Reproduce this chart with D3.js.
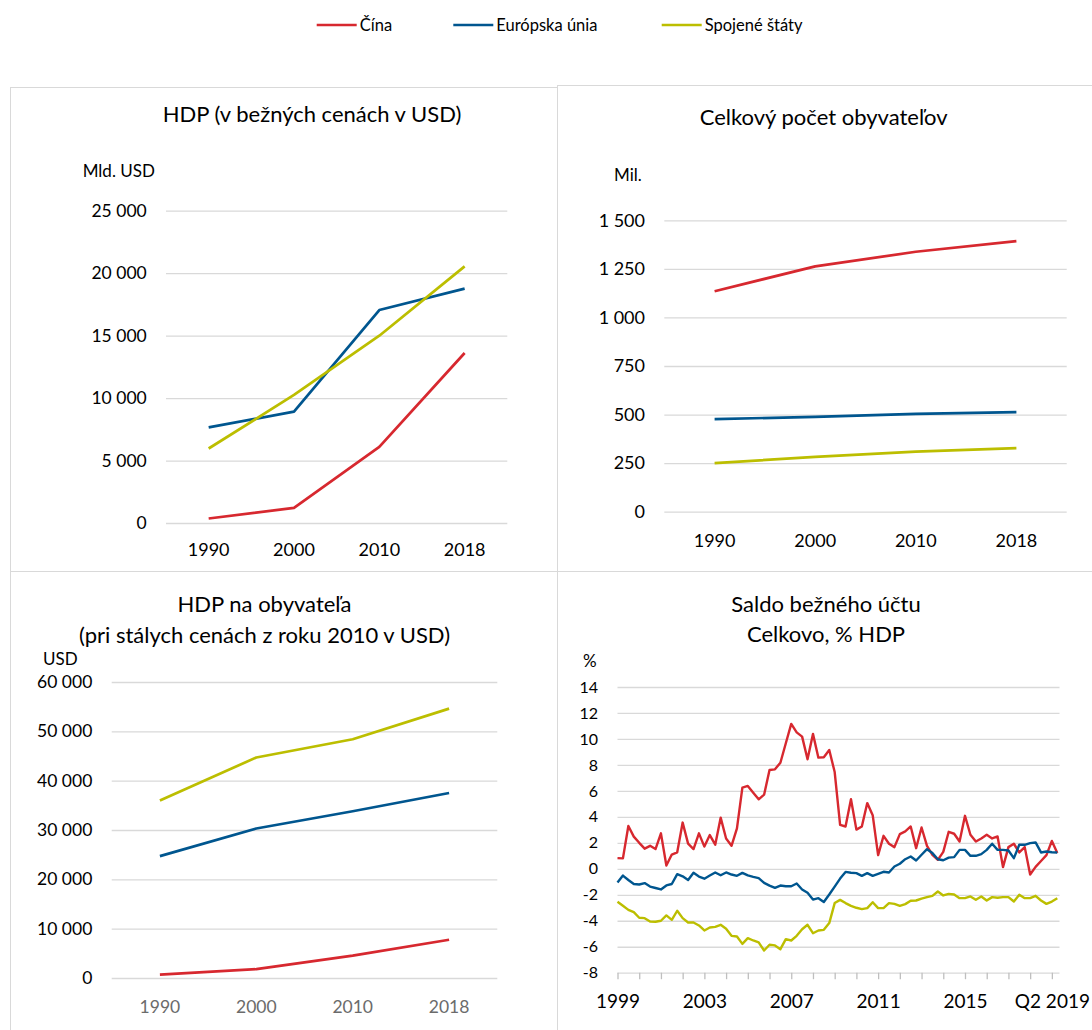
<!DOCTYPE html>
<html>
<head>
<meta charset="utf-8">
<script src="https://cdn.jsdelivr.net/npm/d3@7"></script>
<style>
  html, body { margin: 0; padding: 0; background: #fff; }
  svg { display: block; }
</style>
</head>
<body>
<svg id="chart" width="1092" height="1030"></svg>
<script>
// ---- Series ----
const seriesNames = ["Čína", "Európska únia", "Spojené štáty"];
const seriesColors = ["#d7282f", "#00568f", "#bcbe00"];

// ---- Annual categories for the three small panels ----
const years = ["1990", "2000", "2010", "2018"];

// GDP at current prices, bn USD
const gdpChina = [361, 1211, 6087, 13608];
const gdpEU = [7660, 8910, 17050, 18760];
const gdpUS = [5963, 10252, 14992, 20544];

// Total population, millions
const popChina = [1135, 1263, 1338, 1393];
const popEU = [477, 488, 504, 513];
const popUS = [250, 282, 309, 327];

// GDP per capita, constant 2010 prices, USD
const gdpPcChina = [700, 1800, 4550, 7760];
const gdpPcEU = [24700, 30300, 33800, 37500];
const gdpPcUS = [36000, 44700, 48400, 54600];

// ---- Current account balance, % of GDP, quarterly 1999 Q1 - 2019 Q2 ----
const caChina = [
  0.82, 0.80, 3.30, 2.48, 2.00, 1.55, 1.77, 1.52, 2.73, 0.25,
  1.10, 1.27, 3.56, 1.94, 1.52, 2.73, 1.71, 2.60, 1.86, 3.94,
  2.33, 1.77, 3.11, 6.25, 6.38, 5.86, 5.35, 5.71, 7.61, 7.66,
  8.17, 9.67, 11.16, 10.51, 10.18, 8.43, 10.39, 8.56, 8.59, 9.15,
  7.45, 3.38, 3.26, 5.36, 3.02, 3.26, 5.06, 4.13, 1.05, 2.54,
  1.93, 1.67, 2.67, 2.88, 3.26, 1.59, 3.18, 1.77, 1.08, 0.69,
  1.30, 2.85, 2.70, 2.10, 4.08, 2.62, 2.10, 2.34, 2.62, 2.34,
  2.49, 0.13, 1.67, 1.93, 1.26, 1.67, -0.44, 0.15, 0.60, 1.05,
  2.15, 1.22
];
const caEU = [
  -1.06, -0.52, -0.86, -1.17, -1.21, -1.10, -1.37, -1.48, -1.59, -1.28,
  -1.17, -0.41, -0.58, -0.86, -0.31, -0.60, -0.76, -0.52, -0.28, -0.50,
  -0.28, -0.44, -0.54, -0.31, -0.51, -0.62, -0.72, -1.08, -1.29, -1.47,
  -1.29, -1.34, -1.34, -1.13, -1.59, -1.85, -2.37, -2.26, -2.55, -1.98,
  -1.37, -0.75, -0.24, -0.30, -0.33, -0.54, -0.33, -0.54, -0.39, -0.23,
  -0.28, 0.18, 0.39, 0.74, 0.95, 0.64, 1.08, 1.51, 1.21, 0.74,
  0.66, 0.86, 0.90, 1.46, 1.46, 1.00, 1.00, 1.13, 1.46, 1.93,
  1.46, 1.46, 1.41, 0.82, 1.85, 1.85, 1.98, 2.03, 1.26, 1.33,
  1.28, 1.26
];
const caUS = [
  -2.54, -2.85, -3.16, -3.34, -3.77, -3.80, -4.06, -4.08, -4.00, -3.59,
  -3.93, -3.23, -3.80, -4.13, -4.13, -4.36, -4.75, -4.52, -4.47, -4.31,
  -4.62, -5.16, -5.21, -5.78, -5.34, -5.52, -5.67, -6.29, -5.85, -5.90,
  -6.19, -5.42, -5.52, -5.16, -4.65, -4.31, -4.96, -4.75, -4.70, -4.18,
  -2.64, -2.39, -2.64, -2.85, -3.00, -3.10, -3.03, -2.57, -3.03, -3.03,
  -2.64, -2.70, -2.85, -2.72, -2.46, -2.44, -2.29, -2.18, -2.08, -1.75,
  -2.05, -1.93, -1.98, -2.26, -2.26, -2.13, -2.39, -2.13, -2.44, -2.18,
  -2.23, -2.18, -2.18, -2.52, -2.00, -2.26, -2.26, -2.08, -2.44, -2.70,
  -2.52, -2.26
];
// Labels shown under every 16th quarter
const caTickLabels = ["1999", "2003", "2007", "2011", "2015", "Q2 2019"];

// ---- Styling ----
const FONT = "Lato, 'Open Sans', sans-serif";
const GRID = "#d9d9d9";
const BORDER = "#d9d9d9";
const TEXT = "#000";
const TITLE_FONT = 22;

const locale = d3.formatLocale({ decimal: ",", thousands: " ", grouping: [3], currency: ["", ""], minus: "-" });
const fmtThousands = locale.format(",d");
const fmtPlain = locale.format("d");

const svg = d3.select("#chart");
svg.append("rect").attr("width", 1092).attr("height", 1030).attr("fill", "#fff");

// ---- Panel frames ----
const frames = [
  { x: 10.5, y: 87.5, w: 547, h: 484 },
  { x: 557.5, y: 85.5, w: 545, h: 486 },
  { x: 10.5, y: 571.5, w: 547, h: 470 },
  { x: 557.5, y: 571.5, w: 545, h: 470 }
];
svg.append("g").selectAll("rect").data(frames).join("rect")
  .attr("x", d => d.x).attr("y", d => d.y).attr("width", d => d.w).attr("height", d => d.h)
  .attr("fill", "none").attr("stroke", BORDER).attr("stroke-width", 1);

// ---- Legend ----
const legendX = [316.7, 453.3, 661.7];
const legend = svg.append("g").selectAll("g").data(seriesNames).join("g")
  .attr("transform", (d, i) => `translate(${legendX[i]},25)`);
legend.append("line").attr("x1", 0).attr("x2", 40).attr("y1", 0).attr("y2", 0)
  .attr("stroke", (d, i) => seriesColors[i]).attr("stroke-width", 2.6);
legend.append("text").attr("x", 43).attr("y", 6.3).text(d => d)
  .attr("font-family", FONT).attr("font-size", 16.5).attr("fill", TEXT);

function styleAxisText(sel, size, color) {
  sel.selectAll("text").attr("font-family", FONT).attr("font-size", size).attr("fill", color);
}

function addTitle(g, lines, cx, size) {
  g.append("g").selectAll("text").data(lines).join("text")
    .attr("x", cx).attr("y", d => d.y).attr("text-anchor", "middle")
    .attr("font-family", FONT).attr("font-size", size).attr("fill", TEXT)
    .text(d => d.t);
}

// ---- Annual panels ----
function annualPanel(cfg) {
  const g = svg.append("g");
  const x = d3.scaleBand().domain(years).range([cfg.left, cfg.right]);
  const y = d3.scaleLinear().domain([0, cfg.max]).range([cfg.bottom, cfg.top]);

  // grid lines with value labels
  g.append("g").attr("transform", `translate(${cfg.left},0)`)
    .call(d3.axisLeft(y).tickValues(d3.range(0, cfg.max + 1, cfg.step))
      .tickSize(-(cfg.right - cfg.left)).tickPadding(cfg.left - cfg.labelRight)
      .tickFormat(fmtThousands))
    .call(a => a.select(".domain").remove())
    .call(a => a.selectAll("line").attr("stroke", GRID).attr("stroke-width", 1.3))
    .call(a => styleAxisText(a, cfg.tickFont, TEXT));

  // year labels
  g.append("g").attr("transform", `translate(0,${cfg.bottom})`)
    .call(d3.axisBottom(x).tickSize(0).tickPadding(cfg.xLabelBaseline - cfg.bottom - 0.71 * cfg.xFont))
    .call(a => a.select(".domain").remove())
    .call(a => styleAxisText(a, cfg.xFont, cfg.xColor));

  // unit label
  g.append("text").attr("x", cfg.unit.x).attr("y", cfg.unit.y).text(cfg.unit.t)
    .attr("font-family", FONT).attr("font-size", cfg.unitFont).attr("fill", TEXT);

  addTitle(g, cfg.title, cfg.titleX, TITLE_FONT);

  const line = d3.line().x((d, i) => x(years[i]) + x.bandwidth() / 2).y(d => y(d));
  g.append("g").selectAll("path").data(cfg.series).join("path")
    .attr("d", d => line(d)).attr("fill", "none")
    .attr("stroke", (d, i) => seriesColors[i]).attr("stroke-width", 2.7)
    .attr("stroke-linejoin", "round");
}

annualPanel({
  left: 166, right: 507.3, top: 210.7, bottom: 523, max: 25000, step: 5000,
  labelRight: 146.7, tickFont: 17.5, xFont: 18, xColor: TEXT, xLabelBaseline: 556,
  unit: { t: "Mld. USD", x: 82.7, y: 176.7 }, unitFont: 17,
  title: [{ t: "HDP (v bežných cenách v USD)", y: 121.5 }], titleX: 312,
  series: [gdpChina, gdpEU, gdpUS]
});

annualPanel({
  left: 664.3, right: 1066.7, top: 220.3, bottom: 511.7, max: 1500, step: 250,
  labelRight: 645, tickFont: 18, xFont: 18, xColor: TEXT, xLabelBaseline: 546.7,
  unit: { t: "Mil.", x: 614, y: 180.7 }, unitFont: 17,
  title: [{ t: "Celkový počet obyvateľov", y: 125 }], titleX: 823.7,
  series: [popChina, popEU, popUS]
});

annualPanel({
  left: 111.7, right: 497.3, top: 682, bottom: 978, max: 60000, step: 10000,
  labelRight: 92.3, tickFont: 17.5, xFont: 17.5, xColor: "#6b6b6b", xLabelBaseline: 1013,
  unit: { t: "USD", x: 43, y: 665 }, unitFont: 17,
  title: [{ t: "HDP na obyvateľa", y: 611.7 }, { t: "(pri stálych cenách z roku 2010 v USD)", y: 642.7 }],
  titleX: 264.5,
  series: [gdpPcChina, gdpPcEU, gdpPcUS]
});

// ---- Quarterly current-account panel ----
(function () {
  const g = svg.append("g");
  const idx = d3.range(caChina.length);
  const left = 617.5, right = 1057.3, gridRight = 1059.5, top = 687, bottom = 972.7;
  const x = d3.scalePoint().domain(idx).range([left, right]);
  const y = d3.scaleLinear().domain([-8, 14]).range([bottom, top]);

  g.append("g").attr("transform", `translate(${left},0)`)
    .call(d3.axisLeft(y).tickValues(d3.range(-8, 15, 2))
      .tickSize(-(gridRight - left)).tickPadding(left - 598).tickFormat(fmtPlain))
    .call(a => a.select(".domain").remove())
    .call(a => a.selectAll("line").attr("stroke", GRID).attr("stroke-width", 1.3))
    .call(a => styleAxisText(a, 16, TEXT));

  const xFont = 19;
  g.append("g").attr("transform", `translate(0,${bottom})`)
    .call(d3.axisBottom(x).tickValues(idx.filter(i => i % 4 === 0)).tickSize(6.5)
      .tickPadding(1008 - bottom - 6.5 - 0.71 * xFont)
      .tickFormat(i => (i % 16 === 0 ? caTickLabels[i / 16] : "")))
    .call(a => a.select(".domain").remove())
    .call(a => a.selectAll("line").attr("stroke", "#bfbfbf").attr("stroke-width", 1.3))
    .call(a => styleAxisText(a, xFont, TEXT));

  g.append("text").attr("x", 583).attr("y", 667).text("%")
    .attr("font-family", FONT).attr("font-size", 17).attr("fill", TEXT);

  addTitle(g, [{ t: "Saldo bežného účtu", y: 611.7 }, { t: "Celkovo, % HDP", y: 642.3 }], 826, TITLE_FONT);

  const line = d3.line().x((d, i) => x(i)).y(d => y(d));
  g.append("g").selectAll("path").data([caChina, caEU, caUS]).join("path")
    .attr("d", d => line(d)).attr("fill", "none")
    .attr("stroke", (d, i) => seriesColors[i]).attr("stroke-width", 2.4)
    .attr("stroke-linejoin", "round");
})();
</script>
</body>
</html>
